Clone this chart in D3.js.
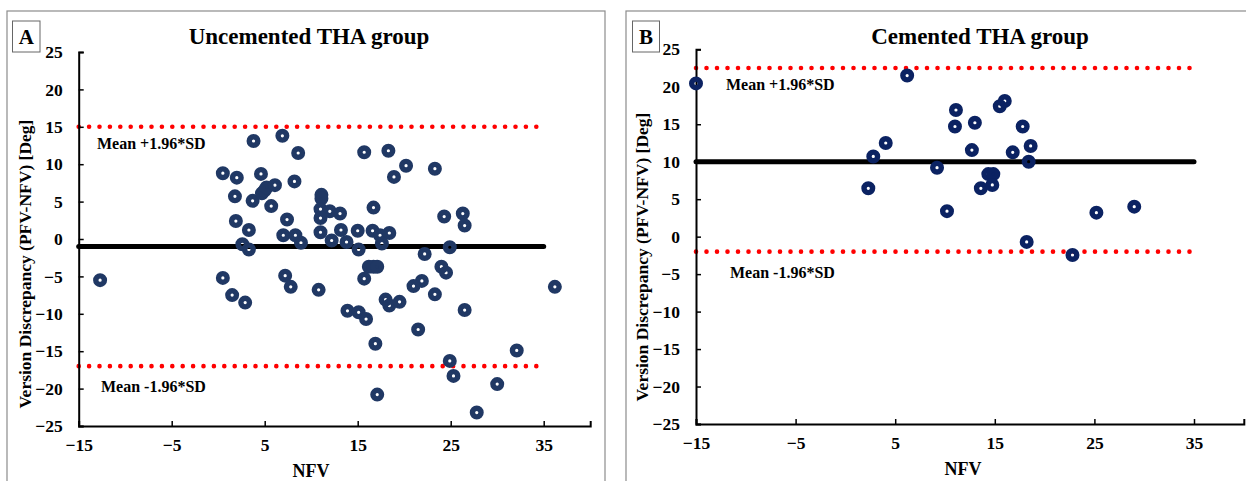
<!DOCTYPE html>
<html>
<head>
<meta charset="utf-8">
<script src="https://cdn.jsdelivr.net/npm/d3@7"></script>
<style>
  body { margin: 0; background: #fff; }
  text { font-family: "Liberation Serif", "Times New Roman", serif; font-weight: bold; }
</style>
</head>
<body>
<svg id="chart" width="1246" height="481"></svg>
<script>
// tick values shared by both panels
var xTicks = [-15, -5, 5, 15, 25, 35];
var yTicks = [-25, -20, -15, -10, -5, 0, 5, 10, 15, 20, 25];

// panel A: uncemented
var uncemNFV  = [-12.7, 0.5, 2.0, 1.8, 1.9, 3.3, 3.8, 4.6, 3.7, 4.7, 5.0, 5.2, 6.1, 5.7, 6.9, 8.2, 8.6, 7.4, 7.0, 8.3,
                 8.9, 2.6, 3.3, 0.5, 1.5, 2.9, 7.2, 7.8, 10.8, 11.1, 11.1, 11.0, 12.0, 13.1, 11.0, 11.0, 13.2, 12.2, 13.8, 15.0,
                 15.1, 16.6, 17.4, 18.4, 17.6, 16.7, 15.7, 18.3, 20.2, 18.9, 23.3, 24.3, 26.3, 26.5, 22.2, 24.9, 16.2, 16.7, 17.1, 15.7,
                 21.9, 21.0, 24.0, 24.5, 23.3, 18.0, 18.4, 19.5, 26.5, 13.9, 15.1, 15.9, 21.5, 16.9, 17.1, 24.9, 25.3, 30.0, 27.8, 32.1, 36.2];
var uncemDiff = [-5.5, 8.8, 8.2, 5.7, 2.4, 1.2, 13.1, 8.7, 5.1, 6.1, 6.5, 6.9, 7.2, 4.4, 13.8, 7.7, 11.5, 2.6, 0.5, 0.5,
                 -0.5, -0.7, -1.4, -5.2, -7.5, -8.5, -4.9, -6.4, -6.8, 5.9, 5.4, 4.0, 3.7, 3.4, 2.8, 0.9, 1.2, -0.2, -0.4, 1.1,
                 -1.4, 1.1, 0.5, 0.8, -0.6, 4.2, 11.6, 11.8, 9.8, 8.3, 9.4, 3.0, 3.4, 1.8, -2.0, -1.1, -3.7, -3.7, -3.7, -5.3,
                 -5.6, -6.3, -3.7, -4.5, -7.4, -8.1, -8.9, -8.4, -9.5, -9.6, -9.8, -10.7, -12.1, -14.0, -20.8, -16.3, -18.3, -19.4, -23.2, -14.9, -6.4];
var uncemLines = [-1, 15, -17]; // mean, +1.96SD, -1.96SD

// panel B: cemented
var cemNFV  = [-15, 6.2, 2.8, 4.05, 2.3, 9.2, 11.1, 11.0, 13.0, 12.7, 15.5, 16.0, 17.8, 18.6, 16.8, 18.4, 14.35, 14.85, 13.6, 14.75,
               10.2, 25.2, 29.0, 18.2, 22.8];
var cemDiff = [20.45, 21.5, 10.7, 12.5, 6.45, 9.2, 16.9, 14.7, 15.2, 11.55, 17.4, 18.1, 14.7, 12.1, 11.25, 10.0, 8.35, 8.35, 6.45, 6.9,
               3.4, 3.2, 4.0, -0.7, -2.45];
var cemLines = [10, 22.5, -2];

var svg = d3.select("#chart");

function drawPanel(p) {
    var g = svg.append("g");

    // outer frame
    g.append("rect")
        .attr("x", p.frame[0]).attr("y", p.frame[1])
        .attr("width", p.frame[2]).attr("height", p.frame[3])
        .attr("fill", "none").attr("stroke", "#8c8c8c").attr("stroke-width", 1.2);

    // letter box
    g.append("rect")
        .attr("x", p.box[0]).attr("y", p.box[1])
        .attr("width", p.box[2]).attr("height", p.box[3])
        .attr("fill", "none").attr("stroke", "#666").attr("stroke-width", 1);
    g.append("text")
        .attr("x", p.box[0] + p.box[2] / 2).attr("y", p.box[1] + p.box[3] / 2 + 7.5)
        .attr("text-anchor", "middle").style("font-size", "21px")
        .text(p.letter);

    g.append("text")
        .attr("x", p.titleX).attr("y", 44)
        .attr("text-anchor", "middle").style("font-size", "23px")
        .text(p.title);

    var x = d3.scaleLinear().domain([-15, 40]).range(p.xr);
    var y = d3.scaleLinear().domain([-25, 25]).range(p.yr);

    // mean line
    g.append("line")
        .attr("x1", x(-15)).attr("x2", x(35))
        .attr("y1", y(p.lines[0])).attr("y2", y(p.lines[0]))
        .attr("stroke", "#000").attr("stroke-width", 5).attr("stroke-linecap", "round");

    // limits of agreement
    [p.lines[1], p.lines[2]].forEach(function (v) {
        g.append("line")
            .attr("x1", x(-15)).attr("x2", x(35))
            .attr("y1", y(v)).attr("y2", y(v))
            .attr("stroke", "#ff0000").attr("stroke-width", 4.6)
            .attr("stroke-linecap", "round")
            .attr("stroke-dasharray", "0," + p.dot);
    });

    g.append("text")
        .attr("x", p.labX).attr("y", y(p.lines[1]) + 22)
        .style("font-size", "16px").text("Mean +1.96*SD");
    g.append("text")
        .attr("x", p.labX + 4).attr("y", y(p.lines[2]) + 26)
        .style("font-size", "16px").text("Mean -1.96*SD");

    // axes
    var ya = g.append("g")
        .attr("transform", "translate(" + x(-15) + ",0)")
        .call(d3.axisLeft(y).tickValues(yTicks).tickSize(-5).tickPadding(16).tickFormat(d3.format("d")));
    var xa = g.append("g")
        .attr("transform", "translate(0," + y(-25) + ")")
        .call(d3.axisBottom(x).tickValues(xTicks).tickSize(-5).tickPadding(13).tickFormat(d3.format("d")));
    [ya, xa].forEach(function (a) {
        a.select(".domain").attr("stroke", "#000").attr("stroke-width", 2);
        a.selectAll(".tick line").attr("stroke", "#000").attr("stroke-width", 1.5);
        a.selectAll(".tick text").style("font-size", "17.5px").attr("fill", "#000")
            .style("font-family", "'Liberation Serif', serif").style("font-weight", "bold");
    });

    g.append("text")
        .attr("transform", "translate(" + p.yLabX + "," + p.yLabY + ") rotate(-90)")
        .attr("text-anchor", "middle").style("font-size", "17.5px")
        .text("Version Discrepancy (PFV-NFV) [Deg]");
    g.append("text")
        .attr("x", p.nfvX).attr("y", p.nfvY)
        .attr("text-anchor", "middle").style("font-size", "18px")
        .text("NFV");

    // ring markers
    g.selectAll("circle.pt")
        .data(d3.zip(p.xs, p.ys))
        .enter().append("circle")
        .attr("class", "pt")
        .attr("cx", function (d) { return x(d[0]); })
        .attr("cy", function (d) { return y(d[1]); })
        .attr("r", 4.3)
        .attr("fill", "none")
        .attr("stroke", p.color)
        .attr("stroke-width", 5.4);
}

drawPanel({
    frame: [7, 11, 598, 490], box: [12.5, 21, 27.5, 31], letter: "A",
    title: "Uncemented THA group", titleX: 309,
    xr: [78.7, 590.2], yr: [426, 52], lines: uncemLines, dot: 10.4,
    labX: 97, yLabX: 31, yLabY: 264, nfvX: 311, nfvY: 477,
    xs: uncemNFV, ys: uncemDiff, color: "#203864"
});
drawPanel({
    frame: [626, 11, 640, 490], box: [632.5, 21, 27, 31], letter: "B",
    title: "Cemented THA group", titleX: 980,
    xr: [696, 1243.8], yr: [424, 49.3], lines: cemLines, dot: 10.5,
    labX: 726, yLabX: 648, yLabY: 257, nfvX: 963, nfvY: 475,
    xs: cemNFV, ys: cemDiff, color: "#0b2262"
});
</script>
</body>
</html>
